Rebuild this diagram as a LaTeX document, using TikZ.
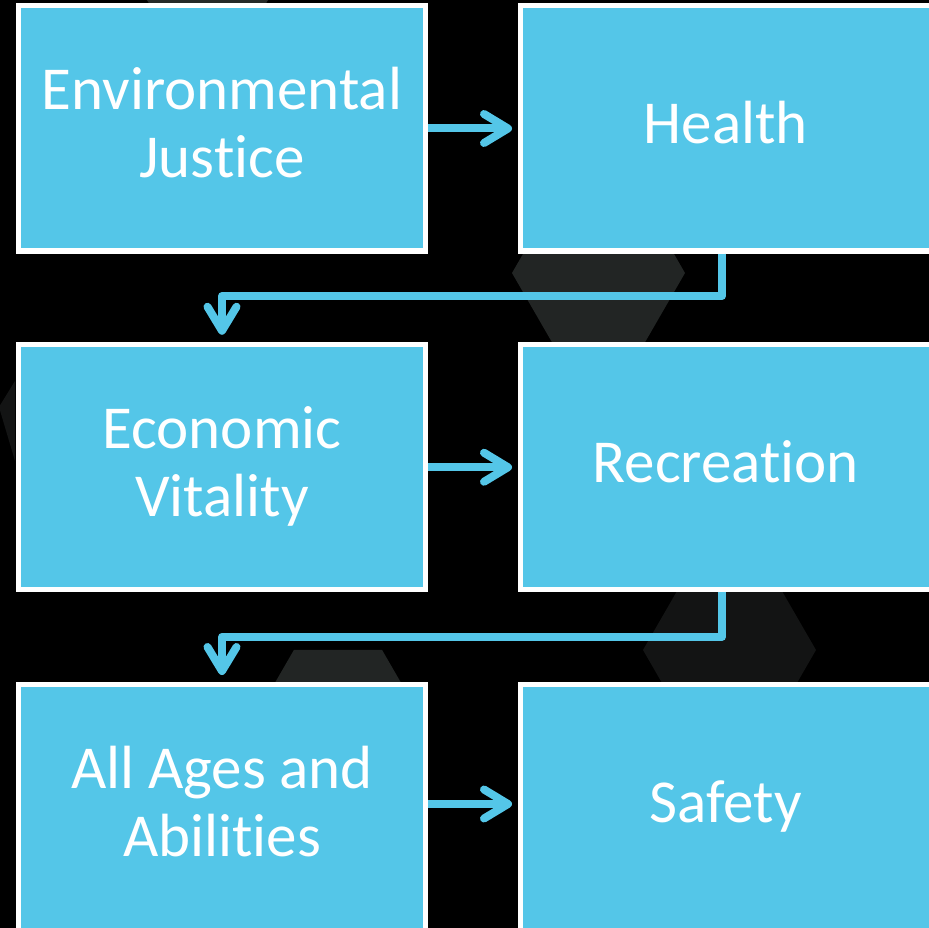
\documentclass[tikz,border=0pt]{standalone}
\usepackage{fontspec}
\setmainfont{Carlito}[Ligatures=NoCommon]
\usetikzlibrary{arrows.meta,calc}
\definecolor{boxcyan}{RGB}{84,198,232}
\definecolor{hexgray}{RGB}{34,37,36}
\definecolor{hexgraytop}{RGB}{38,42,40}
\definecolor{hexdark}{RGB}{19,20,20}
\newcommand\drawhexat[4]{\fill[#4] (#1,#2) +(0:#3) -- +(60:#3) -- +(120:#3) -- +(180:#3) -- +(240:#3) -- +(300:#3) -- cycle;}
\begin{document}
\begin{tikzpicture}[x=1pt,y=-1pt,
  box/.style={draw=white, line width=5pt, fill=boxcyan, inner sep=0pt, text=white,
    align=center, font=\fontsize{61}{68}\selectfont},
  lwide/.style={minimum width=407pt},
  rwide/.style={minimum width=411.5pt},
  rowhigh/.style={minimum height=245pt},
  rowlow/.style={minimum height=250pt},
  twoline/.style={text height=108pt, text depth=9pt},
  oneline/.style={text height=40pt, text depth=9pt},
  twolinelow/.style={text height=103pt, text depth=9pt},
  onelinelow/.style={text height=35pt, text depth=9pt},
  conn/.style={draw=boxcyan, line width=8pt, line join=round,
    -{Straight Barb[length=24pt,width=29pt,round]}}]
\useasboundingbox (0,0) rectangle (929,928);
\fill[black] (0,0) rectangle (929,928);
\begin{scope}
\clip (0,0) rectangle (929,928);
% background hexagons
\drawhexat{207.5}{-46}{87}{hexgraytop}
\drawhexat{598.5}{273}{86.5}{hexgray}
\drawhexat{729.5}{650}{86.5}{hexdark}
\drawhexat{338}{726}{88}{hexgray}
\fill[hexdark] (15,381) -- (-1,407) -- (15,461) -- cycle;
% boxes
\node[box, lwide, rowhigh, twoline] (ej) at (222,128.5) {Environmental\\Justice};
\node[box, rwide, rowhigh, oneline] (health) at (725.75,128.5) {Health};
\node[box, lwide, rowhigh, twoline] (econ) at (222,467.25) {Economic\\Vitality};
\node[box, rwide, rowhigh, oneline] (rec) at (725.75,467.25) {Recreation};
\node[box, lwide, rowlow, twolinelow] (ages) at (222,809) {All Ages and\\Abilities};
\node[box, rwide, rowlow, onelinelow] (safety) at (725.75,809) {Safety};
% connectors
\draw[conn, shorten >=5.5pt] (ej) -- (health);
\draw[conn, shorten >=5.5pt] (econ) -- (rec);
\draw[conn, shorten >=5.5pt] ([yshift=5pt]ages.east) -- ([yshift=5pt]safety.west);
\draw[conn, shorten >=7.5pt] ([xshift=-3.75pt]health.south) -- ++(0,42.5) -| (econ.north);
\draw[conn, shorten >=6.5pt] ([xshift=-3.75pt]rec.south) -- ++(0,44.5) -| (ages.north);
\end{scope}
\end{tikzpicture}
\end{document}
